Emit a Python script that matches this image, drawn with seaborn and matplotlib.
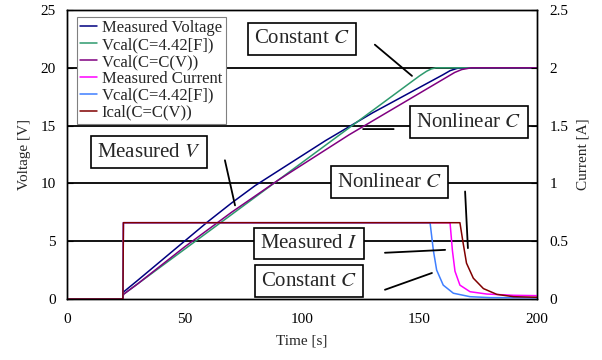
import matplotlib
matplotlib.use("Agg")
import matplotlib.pyplot as plt
import seaborn as sns

# ---- data ----
t_vm = [0, 23.8, 24, 30, 40, 50, 60, 70, 80, 90, 100, 110, 120, 130, 140, 150, 160, 163, 166, 170, 200]
v_meas = [0, 0, 0.6, 1.6, 3.3, 5.0, 6.7, 8.3, 9.8, 11.1, 12.4, 13.7, 14.9, 16.1, 17.2, 18.3, 19.4, 19.75, 19.95, 20.0, 20.0]

t_vc = [0, 23.8, 24, 50, 100, 150, 153, 155, 157, 160, 200]
v_const = [0, 0, 0.4, 4.3, 11.8, 19.3, 19.7, 19.9, 20.0, 20.0, 20.0]

t_vn = [0, 23.8, 24, 30, 40, 50, 60, 70, 80, 90, 100, 110, 120, 130, 140, 150, 160, 165, 168, 172, 200]
v_nonlin = [0, 0, 0.4, 1.3, 2.9, 4.5, 6.0, 7.5, 8.9, 10.3, 11.6, 12.9, 14.2, 15.4, 16.6, 17.8, 19.0, 19.6, 19.85, 20.0, 20.0]

t_im = [0, 23.8, 24, 163, 164, 165.1, 167.2, 171.5, 178.6, 190, 200]
i_meas = [0, 0, 0.66, 0.66, 0.42, 0.24, 0.12, 0.063, 0.043, 0.032, 0.029]

t_ic = [0, 23.8, 24, 154.5, 155.9, 157.3, 160.1, 164.4, 171.5, 180, 200]
i_const = [0, 0, 0.66, 0.66, 0.42, 0.25, 0.12, 0.05, 0.02, 0.012, 0.01]

t_in = [0, 23.8, 24, 167.2, 168.6, 170, 172.9, 177.2, 182.9, 190, 200]
i_nonlin = [0, 0, 0.66, 0.66, 0.48, 0.31, 0.18, 0.09, 0.04, 0.02, 0.015]

labels = ["Measured Voltage", "Vcal(C=4.42[F])", "Vcal(C=C(V))",
          "Measured Current", "Vcal(C=4.42[F])", "Ical(C=C(V))"]
colors = ["#000080", "#2e9a6e", "#800080", "#ff00ff", "#3f7fff", "#800000"]

# ---- style ----
sns.set_theme(style="white")
plt.rcParams["font.family"] = ["Liberation Serif", "DejaVu Serif"]
plt.rcParams["mathtext.fontset"] = "stix"

fig = plt.figure(figsize=(6.02, 3.6), dpi=100)
ax = fig.add_axes([67 / 602, 1 - 299 / 360, 470 / 602, 289 / 360])
ax2 = ax.twinx()

sns.lineplot(x=t_vm, y=v_meas, ax=ax, color=colors[0], lw=1.1, label=labels[0])
sns.lineplot(x=t_vc, y=v_const, ax=ax, color=colors[1], lw=1.1, label=labels[1])
sns.lineplot(x=t_vn, y=v_nonlin, ax=ax, color=colors[2], lw=1.1, label=labels[2])
sns.lineplot(x=t_im, y=i_meas, ax=ax2, color=colors[3], lw=1.1, label=labels[3])
sns.lineplot(x=t_ic, y=i_const, ax=ax2, color=colors[4], lw=1.1, label=labels[4])
sns.lineplot(x=t_in, y=i_nonlin, ax=ax2, color=colors[5], lw=1.1, label=labels[5])

ax.set_xlim(0, 200)
ax.set_ylim(0, 25)
ax2.set_ylim(0, 2.5)
ax.set_xticks([0, 50, 100, 150, 200])
ax.set_yticks([0, 5, 10, 15, 20, 25])
ax2.set_yticks([0, 0.5, 1, 1.5, 2, 2.5])
ax2.set_yticklabels(["0", "0.5", "1", "1.5", "2", "2.5"])

for yv in [5, 10, 15, 20]:
    ax.axhline(yv, color="black", lw=1.3, zorder=0.5)

ax.set_xlabel("Time [s]", fontsize=11, labelpad=6)
ax.set_ylabel("Voltage [V]", fontsize=11, labelpad=7)
ax2.set_ylabel("Current [A]", fontsize=11, labelpad=6)
ax.tick_params(axis="x", direction="in", length=4, width=0.8, labelsize=11, pad=10, colors="black")
ax.tick_params(axis="y", direction="in", length=4, width=0.8, labelsize=11, pad=8, colors="black")
ax2.tick_params(axis="y", direction="in", length=4, width=0.8, labelsize=11, pad=9, colors="black")
for a in (ax, ax2):
    for s in a.spines.values():
        s.set_color("black")
        s.set_linewidth(1.0)

# legend combining both axes
h1, l1 = ax.get_legend_handles_labels()
h2, l2 = ax2.get_legend_handles_labels()
ax.get_legend().remove()
ax2.get_legend().remove()
leg = ax2.legend(h1 + h2, l1 + l2, loc="upper left", bbox_to_anchor=(0.021, 0.976),
                 borderaxespad=0, fontsize=12, handlelength=1.0, handletextpad=0.3,
                 labelspacing=0.05, borderpad=0.2, fancybox=False, framealpha=1,
                 edgecolor="#808080")
leg.get_frame().set_linewidth(0.8)

# annotation boxes with leader lines
box = dict(boxstyle="square,pad=0.3", facecolor="white", edgecolor="black", lw=1.2)
notes = [
    ("Constant $\\it{C}$", (100, 22.5), (131, 22.0), (146.8, 19.3)),
    ("Nonlinear $\\it{C}$", (171, 15.3), (126, 14.7), (139, 14.7)),
    ("Measured $\\it{V}$", (35, 12.7), (67.2, 12.0), (71.5, 8.1)),
    ("Nonlinear $\\it{C}$", (137.2, 10.1), (169.4, 9.3), (170.6, 4.4)),
    ("Measured $\\it{I}$", (103, 4.8), (135.3, 4.0), (160.9, 4.25)),
    ("Constant $\\it{C}$", (103, 1.55), (135.3, 0.8), (155.3, 2.25)),
]
for txt, pos, p0, p1 in notes:
    ax2.annotate("", xy=p1, xytext=p0, xycoords=ax.transData, textcoords=ax.transData,
                 arrowprops=dict(arrowstyle="-", color="black", lw=1.3,
                                 shrinkA=0, shrinkB=0))
    ax2.text(pos[0], pos[1], txt, transform=ax.transData, ha="center", va="center",
             fontsize=15, bbox=box, zorder=5)

fig.savefig("out.png", dpi=100)
